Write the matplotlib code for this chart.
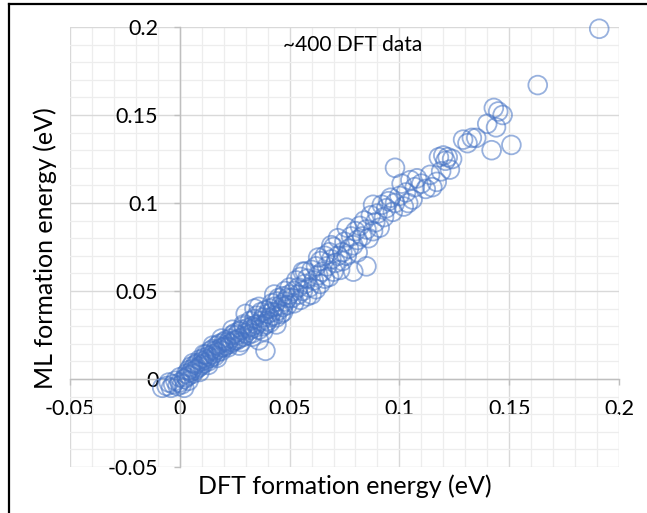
import numpy as np
import matplotlib
matplotlib.use("Agg")
import matplotlib.pyplot as plt
from matplotlib.lines import Line2D
from matplotlib.ticker import MultipleLocator, FuncFormatter

plt.rcParams["font.family"] = ["Lato", "DejaVu Sans"]
plt.rcParams["axes.unicode_minus"] = False

# ── Data (eV) ─────────────────────────────────────────────────────────────────
dft_low = [-0.008, -0.006, -0.005, -0.004, -0.003, -0.002, -0.001, 0.000, 0.000, 0.001,
           0.002, 0.002, 0.003, 0.003, 0.004, 0.004, 0.005, 0.005, 0.006, 0.006,
           0.007, 0.007, 0.008, 0.008, 0.009, 0.009, 0.010, 0.010, 0.011, 0.011,
           0.012, 0.012, 0.013, 0.013, 0.014, 0.014, 0.015, 0.015, 0.016, 0.016,
           0.017, 0.017, 0.018, 0.018, 0.019, 0.019, 0.020, 0.020,
           0.004, 0.009, 0.013, 0.017, 0.006, 0.011, 0.015, 0.019]
ml_low = [-0.005, -0.004, -0.002, -0.005, -0.003, -0.001, -0.004, -0.002, 0.001, -0.003,
          0.000, -0.005, 0.003, 0.001, 0.002, 0.005, 0.004, 0.007, 0.003, 0.006,
          0.005, 0.008, 0.006, 0.009, 0.007, 0.011, 0.008, 0.010, 0.012, 0.009,
          0.011, 0.014, 0.010, 0.013, 0.012, 0.016, 0.014, 0.017, 0.013, 0.016,
          0.019, 0.015, 0.017, 0.020, 0.016, 0.018, 0.021, 0.018,
          -0.001, 0.004, 0.008, 0.012, 0.009, 0.014, 0.019, 0.023]

dft_mid = [0.021, 0.021, 0.022, 0.022, 0.023, 0.023, 0.024, 0.024, 0.025, 0.025,
           0.026, 0.026, 0.027, 0.027, 0.028, 0.028, 0.029, 0.029, 0.030, 0.030,
           0.031, 0.031, 0.032, 0.032, 0.033, 0.033, 0.034, 0.034, 0.035, 0.035,
           0.036, 0.036, 0.037, 0.037, 0.038, 0.038, 0.039, 0.039, 0.040, 0.040,
           0.041, 0.041, 0.042, 0.042, 0.043, 0.043, 0.044, 0.044, 0.045, 0.045,
           0.046, 0.046, 0.047, 0.047, 0.048, 0.048, 0.049, 0.049, 0.050, 0.050,
           0.024, 0.029, 0.034, 0.039, 0.044, 0.027, 0.033, 0.043,
           0.036, 0.041, 0.047, 0.038]
ml_mid = [0.019, 0.022, 0.018, 0.021, 0.023, 0.020, 0.025, 0.021, 0.022, 0.026,
          0.022, 0.025, 0.027, 0.023, 0.021, 0.028, 0.024, 0.031, 0.026, 0.037,
          0.029, 0.025, 0.028, 0.033, 0.030, 0.026, 0.034, 0.029, 0.031, 0.036,
          0.028, 0.022, 0.033, 0.038, 0.030, 0.035, 0.016, 0.039, 0.033, 0.037,
          0.040, 0.035, 0.038, 0.043, 0.036, 0.041, 0.044, 0.035, 0.039, 0.046,
          0.037, 0.042, 0.047, 0.041, 0.044, 0.050, 0.042, 0.046, 0.052, 0.048,
          0.028, 0.030, 0.040, 0.031, 0.031, 0.019, 0.024, 0.048,
          0.041, 0.032, 0.038, 0.027]

dft_upper = [0.051, 0.052, 0.052, 0.053, 0.054, 0.054, 0.055, 0.055, 0.056, 0.057,
             0.057, 0.058, 0.058, 0.059, 0.060, 0.060, 0.061, 0.062, 0.062, 0.063,
             0.064, 0.064, 0.065, 0.066, 0.066, 0.067, 0.068, 0.068, 0.069, 0.070,
             0.070, 0.071, 0.072, 0.072, 0.073, 0.074, 0.074, 0.075, 0.076, 0.076,
             0.077, 0.078, 0.079, 0.079, 0.080, 0.081, 0.081, 0.082, 0.083, 0.084,
             0.085, 0.085, 0.086, 0.087, 0.088, 0.088, 0.089, 0.090,
             0.056, 0.063, 0.069]
ml_upper = [0.046, 0.050, 0.043, 0.056, 0.048, 0.052, 0.045, 0.058, 0.050, 0.054,
            0.061, 0.047, 0.057, 0.052, 0.062, 0.048, 0.056, 0.064, 0.051, 0.059,
            0.067, 0.054, 0.061, 0.070, 0.057, 0.064, 0.072, 0.058, 0.068, 0.061,
            0.075, 0.066, 0.070, 0.080, 0.062, 0.072, 0.067, 0.078, 0.086, 0.070,
            0.074, 0.081, 0.061, 0.076, 0.084, 0.079, 0.072, 0.087, 0.081, 0.090,
            0.064, 0.085, 0.080, 0.093, 0.084, 0.099, 0.089, 0.094,
            0.061, 0.069, 0.076]

dft_high = [0.091, 0.092, 0.093, 0.094, 0.095, 0.096, 0.097, 0.098, 0.098, 0.100,
            0.101, 0.102, 0.103, 0.104, 0.105, 0.106, 0.107, 0.108, 0.110, 0.112,
            0.114, 0.115, 0.117, 0.118, 0.119, 0.120, 0.121, 0.122, 0.123, 0.124,
            0.129, 0.131, 0.133, 0.135, 0.140, 0.142, 0.143, 0.144, 0.145, 0.147,
            0.151, 0.163, 0.191]
ml_high = [0.086, 0.099, 0.092, 0.097, 0.101, 0.103, 0.095, 0.120, 0.100, 0.104,
           0.111, 0.098, 0.106, 0.100, 0.113, 0.102, 0.109, 0.114, 0.111, 0.108,
           0.116, 0.109, 0.112, 0.126, 0.118, 0.127, 0.124, 0.126, 0.119, 0.125,
           0.136, 0.134, 0.137, 0.137, 0.145, 0.130, 0.154, 0.143, 0.152, 0.150,
           0.133, 0.167, 0.199]

dft = dft_low + dft_mid + dft_upper + dft_high
ml = ml_low + ml_mid + ml_upper + ml_high

# ── Figure ────────────────────────────────────────────────────────────────────
fig = plt.figure(figsize=(6.47, 5.13), dpi=100, facecolor="white")
ax = fig.add_axes([70 / 647, 1 - 467 / 513, 549 / 647, 440 / 513])

ax.set_xlim(-0.05, 0.2)
ax.set_ylim(-0.05, 0.2)

ax.xaxis.set_major_locator(MultipleLocator(0.05))
ax.yaxis.set_major_locator(MultipleLocator(0.05))
ax.xaxis.set_minor_locator(MultipleLocator(0.01))
ax.yaxis.set_minor_locator(MultipleLocator(0.01))
ax.grid(which="minor", color="#ededed", lw=0.9, zorder=0)
ax.grid(which="major", color="#d9d9d9", lw=1.0, zorder=0)
ax.set_axisbelow(True)

fmt = FuncFormatter(lambda v, _: f"{v:g}" if abs(v) > 1e-9 else "0")
ax.xaxis.set_major_formatter(fmt)
ax.yaxis.set_major_formatter(fmt)

for side in ["top", "right"]:
    ax.spines[side].set_visible(False)
ax.spines["left"].set_position(("data", 0))
ax.spines["bottom"].set_position(("data", 0))
for side in ["left", "bottom"]:
    ax.spines[side].set_color("#bfbfbf")
    ax.spines[side].set_linewidth(1.0)

ax.tick_params(which="major", length=4.5, width=1, color="#bfbfbf",
               labelsize=15.5, labelcolor="black", direction="out")
ax.tick_params(axis="y", pad=11)
ax.tick_params(axis="x", pad=10)
ax.tick_params(which="minor", length=0)

ax.scatter(dft, ml, s=13.5 ** 2, facecolors="none", edgecolors="#4472C4",
           linewidths=1.3, alpha=0.55, zorder=3, clip_on=False)

ax.text(0.0785, 0.2 - (45 - 27) / 1760, "~400 DFT data", ha="center", va="center",
        fontsize=15, color="black")

fig.text(345 / 647, 1 - 486 / 513, "DFT formation energy (eV)", ha="center",
         va="center", fontsize=18)
fig.text(45 / 647, 1 - 248 / 513, "ML formation energy (eV)", ha="center",
         va="center", rotation=90, fontsize=18)

# outer frame (only top and left edges are visible in the crop)
fig.add_artist(Line2D([9 / 647, 1.0], [1 - 4 / 513, 1 - 4 / 513],
                      transform=fig.transFigure, color="black", lw=1.6))
fig.add_artist(Line2D([9 / 647, 9 / 647], [0.0, 1 - 4 / 513],
                      transform=fig.transFigure, color="black", lw=1.6))

fig.savefig("out.png", dpi=100, facecolor="white")
